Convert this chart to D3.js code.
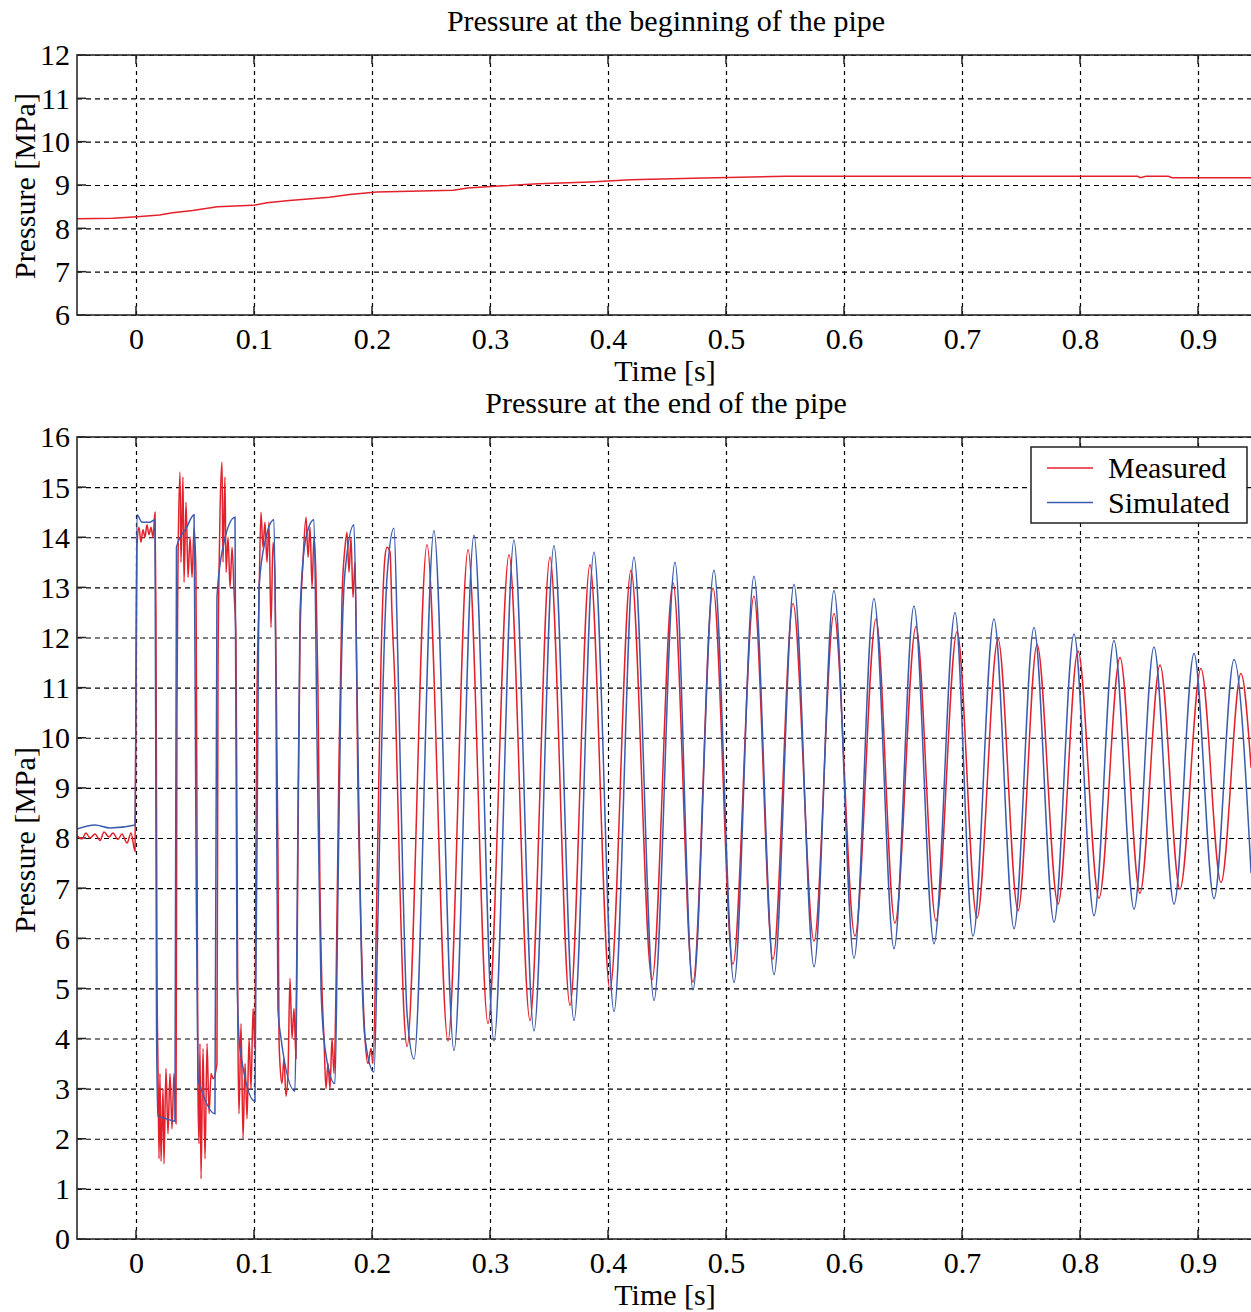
<!DOCTYPE html>
<html>
<head>
<meta charset="utf-8">
<script src="https://cdn.jsdelivr.net/npm/d3@7"></script>
<style>
	body { margin: 0; background: #fff; }
	text { font-family: "Liberation Serif", "Times New Roman", serif; font-size: 30px; fill: #000; }
</style>
</head>
<body>
<svg id="chart" width="1251" height="1312"></svg>
<script>
/*
	Pressure at the beginning and at the end of the pipe,
	measured vs simulated (two stacked panels).
*/

// Axis ticks
var xTicks = [0, 0.1, 0.2, 0.3, 0.4, 0.5, 0.6, 0.7, 0.8, 0.9];
var topYTicks = [6, 7, 8, 9, 10, 11, 12];
var botYTicks = [0, 1, 2, 3, 4, 5, 6, 7, 8, 9, 10, 11, 12, 13, 14, 15, 16];

// Series names
var seriesNames = ['Measured', 'Simulated'];

// Pressure at the beginning of the pipe [t (s), p (MPa)]
var inlet = [[-0.05, 8.22], [-0.0195, 8.23], [0.001, 8.27], [0.02, 8.31], [0.031, 8.36],
	[0.048, 8.41], [0.069, 8.5], [0.099, 8.53], [0.111, 8.59], [0.13, 8.64], [0.164, 8.72],
	[0.181, 8.78], [0.204, 8.84], [0.241, 8.86], [0.269, 8.88], [0.281, 8.93], [0.311, 8.98],
	[0.341, 9.03], [0.385, 9.07], [0.419, 9.12], [0.481, 9.16], [0.55, 9.2], [0.849, 9.2],
	[0.851, 9.17], [0.856, 9.2], [0.875, 9.2], [0.878, 9.17], [0.95, 9.17]];

// Pressure at the end of the pipe, measured [t (s), p (MPa)]
var measured = [
	[-0.05, 8.05], [-0.0458, 7.98], [-0.0424, 8.1], [-0.039, 8.0], [-0.0347, 8.08], [-0.0305, 7.95],
	[-0.0271, 8.12], [-0.0229, 8.02], [-0.0195, 8.1], [-0.0153, 7.97], [-0.0119, 8.08], [-0.0076, 7.9],
	[-0.0042, 8.1], [-0.0008, 7.73],
	[0.0008, 13.8], [0.0025, 14.2], [0.0042, 13.9], [0.0059, 14.15], [0.0076, 14.0], [0.0093, 14.25],
	[0.011, 14.05], [0.0127, 14.2], [0.0144, 14.0], [0.0161, 14.5], [0.0169, 12.5], [0.0178, 5.3],
	[0.0186, 3.5], [0.0195, 1.6], [0.0203, 3.3], [0.0212, 1.55], [0.0229, 3.0], [0.0237, 1.5],
	[0.0254, 3.4], [0.0271, 2.1], [0.0288, 3.3], [0.0305, 2.2], [0.0322, 3.3], [0.0339, 2.3],
	[0.0347, 10.5], [0.0356, 13.5], [0.0373, 15.3], [0.0381, 13.5], [0.0398, 15.2], [0.0407, 13.1],
	[0.0424, 14.7], [0.0441, 13.2], [0.0458, 14.0], [0.0475, 13.2], [0.0492, 14.2], [0.0508, 13.3],
	[0.0517, 8.0], [0.0525, 3.0], [0.0534, 1.9], [0.0542, 3.9], [0.0551, 1.2], [0.0568, 3.8],
	[0.0585, 1.6], [0.0602, 3.9], [0.0619, 2.5], [0.0636, 3.3], [0.0653, 3.2], [0.0686, 3.5],
	[0.0695, 11.4], [0.0703, 13.2], [0.0712, 14.5], [0.0729, 15.5], [0.0737, 13.5], [0.0754, 15.2],
	[0.0763, 13.3], [0.078, 14.0], [0.0797, 13.0], [0.0814, 13.8], [0.0831, 12.9], [0.0847, 12.0],
	[0.0856, 8.0], [0.0864, 4.0], [0.0873, 2.5], [0.089, 4.3], [0.0907, 2.0], [0.0924, 3.5],
	[0.0941, 2.4], [0.0958, 4.0], [0.0975, 3.0], [0.0992, 4.6], [0.1008, 3.8],
	[0.1017, 8.0], [0.1025, 10.8], [0.1042, 12.7], [0.1059, 14.5], [0.1076, 13.8], [0.1093, 14.3],
	[0.111, 13.5], [0.1127, 14.3], [0.1144, 12.2], [0.1161, 13.9], [0.1178, 13.2], [0.1195, 9.5],
	[0.1203, 7.7], [0.1212, 4.0], [0.122, 3.5], [0.1237, 3.1], [0.1254, 3.6], [0.1271, 2.85],
	[0.1288, 3.3], [0.1305, 5.2], [0.1322, 4.0], [0.1339, 4.6], [0.1356, 3.6],
	[0.1373, 8.0], [0.139, 12.0], [0.1415, 13.5], [0.1441, 14.4], [0.1458, 13.6], [0.1475, 14.2],
	[0.1492, 13.0], [0.1508, 14.0], [0.1525, 13.2], [0.1542, 11.0], [0.1559, 7.0], [0.1576, 5.0],
	[0.1593, 4.0], [0.161, 3.0], [0.1627, 3.5], [0.1644, 3.0], [0.1661, 4.0], [0.1678, 3.3],
	[0.1695, 5.0], [0.172, 9.5], [0.1746, 12.8], [0.1771, 13.8], [0.1788, 14.1], [0.1805, 13.3],
	[0.1822, 14.0], [0.1839, 12.8], [0.1856, 13.5], [0.1881, 9.0], [0.1915, 5.5], [0.1941, 4.0],
	[0.1966, 3.5], [0.1992, 3.8], [0.2008, 3.5],
	[0.2042, 7.0], [0.2076, 11.5], [0.211, 13.6], [0.2127, 13.8], [0.2153, 13.7], [0.2169, 12.5],
	[0.2195, 11.0], [0.2237, 7.0], [0.2271, 4.5], [0.2297, 3.84],
	[0.2466, 13.85], [0.2644, 3.95], [0.2814, 13.75], [0.2983, 4.3], [0.3161, 13.65], [0.3339, 4.36],
	[0.3508, 13.6], [0.3678, 4.66], [0.3847, 13.45], [0.4017, 4.97], [0.4195, 13.34], [0.4373, 5.17],
	[0.4551, 13.09], [0.472, 5.12], [0.489, 12.99], [0.5059, 5.48], [0.5237, 12.83], [0.5398, 5.58],
	[0.5568, 12.68], [0.5746, 5.94], [0.5915, 12.48], [0.6093, 6.04], [0.6271, 12.37], [0.6432, 6.3],
	[0.661, 12.22], [0.678, 6.35], [0.6958, 12.12], [0.7127, 6.4], [0.7305, 11.97], [0.7475, 6.55],
	[0.7636, 11.86], [0.7814, 6.68], [0.7983, 11.73], [0.8161, 6.8], [0.8339, 11.6], [0.8508, 6.9],
	[0.8678, 11.45], [0.8847, 6.98], [0.9025, 11.38], [0.9195, 7.11], [0.9364, 11.28], [0.945, 9.4]
];

// Pressure at the end of the pipe, simulated [t (s), p (MPa)]
var simulated = [
	[-0.05, 8.18], [-0.0347, 8.26], [-0.022, 8.2], [-0.0008, 8.26],
	[0.0008, 14.45], [0.0051, 14.3], [0.0119, 14.3], [0.0161, 14.35], [0.0174, 4.2], [0.0186, 2.45],
	[0.0254, 2.4], [0.033, 2.35],
	[0.0343, 13.8], [0.043, 14.2], [0.0492, 14.45], [0.0508, 8.0], [0.0525, 3.2], [0.0551, 3.0], [0.0669, 2.5],
	[0.0686, 12.8], [0.0737, 13.8], [0.0839, 14.4], [0.0856, 5.2], [0.0881, 3.8], [0.1008, 2.75],
	[0.1042, 13.0], [0.1102, 14.0], [0.1169, 14.35], [0.1186, 11.0], [0.1203, 4.6], [0.1229, 4.0], [0.1347, 2.95],
	[0.1364, 6.0], [0.139, 12.5], [0.1441, 14.0], [0.1508, 14.35], [0.1534, 10.0], [0.1568, 5.0],
	[0.1602, 3.8], [0.1686, 3.1],
	[0.1712, 7.0], [0.1737, 11.0], [0.1771, 13.3], [0.1847, 14.25], [0.1873, 11.0], [0.1907, 6.0],
	[0.1941, 4.0], [0.2017, 3.33],
	[0.2051, 6.5], [0.2093, 11.0], [0.2127, 13.2], [0.2186, 14.18], [0.222, 11.5], [0.2263, 7.0],
	[0.2297, 4.5], [0.2356, 3.59],
	[0.2525, 14.13], [0.2695, 3.76], [0.2864, 14.04], [0.3034, 3.95], [0.3203, 13.94], [0.3373, 4.15],
	[0.3542, 13.83], [0.3712, 4.36], [0.3881, 13.7], [0.4051, 4.54], [0.422, 13.6], [0.439, 4.76],
	[0.4568, 13.5], [0.472, 4.97], [0.4898, 13.34], [0.5068, 5.12], [0.5237, 13.22], [0.5407, 5.27],
	[0.5576, 13.06], [0.5746, 5.43], [0.5915, 12.94], [0.6085, 5.6], [0.6254, 12.78], [0.6424, 5.79],
	[0.6593, 12.63], [0.6763, 5.89], [0.6941, 12.5], [0.7093, 6.04], [0.7271, 12.37], [0.7441, 6.19],
	[0.761, 12.2], [0.778, 6.32], [0.7949, 12.07], [0.8119, 6.45], [0.8288, 11.94], [0.8458, 6.58],
	[0.8627, 11.81], [0.8797, 6.68], [0.8966, 11.68], [0.9136, 6.79], [0.9305, 11.56], [0.945, 7.3]
];

var RED = '#e3212b',
	BLUE = '#3b5cae';

var svg = d3.select('#chart');

var x = d3.scaleLinear().domain([-0.05, 0.95]).range([77, 1257]);

svg.append('defs').append('clipPath')
	.attr('id', 'plotclip')
	.append('rect')
	.attr('x', 77).attr('y', 0)
	.attr('width', 1180).attr('height', 1312);

function drawPanel(o) {
	var y = d3.scaleLinear().domain(o.yDomain).range([o.bottom, o.top]);
	var g = svg.append('g');
	var w = x.range()[1] - x.range()[0],
		h = o.bottom - o.top;

	// grid + tick labels (x)
	var xa = g.append('g')
		.attr('transform', 'translate(0,' + o.bottom + ')')
		.call(d3.axisBottom(x).tickValues(xTicks).tickSize(-h).tickFormat(d3.format('')));
	xa.select('.domain').remove();
	xa.selectAll('line')
		.attr('stroke', '#000').attr('stroke-width', 1.2).attr('stroke-dasharray', '4,4');
	xa.selectAll('text')
		.attr('y', 34).attr('dy', 0)
		.style('font-size', '30px').style('font-family', '"Liberation Serif", serif').attr('fill', '#000');

	// grid + tick labels (y)
	var ya = g.append('g')
		.attr('transform', 'translate(' + x.range()[0] + ',0)')
		.call(d3.axisLeft(y).tickValues(o.yTicks).tickSize(-w).tickPadding(7).tickFormat(d3.format('d')));
	ya.select('.domain').remove();
	ya.selectAll('line')
		.attr('stroke', '#000').attr('stroke-width', 1.2).attr('stroke-dasharray', '5,4');
	ya.selectAll('text')
		.attr('dy', '0.33em')
		.style('font-size', '30px').style('font-family', '"Liberation Serif", serif').attr('fill', '#000');

	// inward tick marks
	g.selectAll('line.xtick-b').data(xTicks).enter().append('line')
		.attr('x1', d => x(d)).attr('x2', d => x(d))
		.attr('y1', o.bottom).attr('y2', o.bottom - 9)
		.attr('stroke', '#222').attr('stroke-width', 1.5);
	g.selectAll('line.xtick-t').data(xTicks).enter().append('line')
		.attr('x1', d => x(d)).attr('x2', d => x(d))
		.attr('y1', o.top).attr('y2', o.top + 9)
		.attr('stroke', '#222').attr('stroke-width', 1.5);
	g.selectAll('line.ytick').data(o.yTicks).enter().append('line')
		.attr('x1', x.range()[0]).attr('x2', x.range()[0] + 9)
		.attr('y1', d => y(d)).attr('y2', d => y(d))
		.attr('stroke', '#222').attr('stroke-width', 1.5);

	// series
	var line = d3.line().curve(o.curve || d3.curveLinear).x(d => x(d[0])).y(d => y(d[1]));
	o.series.forEach(function(s) {
		g.append('path')
			.datum(s.data)
			.attr('clip-path', 'url(#plotclip)')
			.attr('fill', 'none')
			.attr('stroke', s.color)
			.attr('stroke-width', 1.5)
			.attr('d', line);
	});

	// frame
	g.append('rect')
		.attr('x', x.range()[0]).attr('y', o.top)
		.attr('width', w).attr('height', h)
		.attr('fill', 'none').attr('stroke', '#2a2a2a').attr('stroke-width', 1.6);

	// titles
	g.append('text')
		.attr('x', 666).attr('y', o.top - 24)
		.attr('text-anchor', 'middle')
		.text(o.title);
	g.append('text')
		.attr('x', 665).attr('y', o.bottom + 66)
		.attr('text-anchor', 'middle')
		.text('Time [s]');
	g.append('text')
		.attr('transform', 'translate(35,' + o.labelY + ') rotate(-90)')
		.attr('text-anchor', 'middle')
		.text('Pressure [MPa]');

	return {g: g, y: y};
}

drawPanel({
	top: 55, bottom: 315,
	yDomain: [6, 12], yTicks: topYTicks,
	title: 'Pressure at the beginning of the pipe',
	labelY: 186,
	series: [{data: inlet, color: RED}]
});

drawPanel({
	top: 437, bottom: 1239,
	yDomain: [0, 16], yTicks: botYTicks,
	title: 'Pressure at the end of the pipe',
	labelY: 840,
	curve: d3.curveMonotoneX,
	series: [{data: measured, color: RED}, {data: simulated, color: BLUE}]
});

// Legend
var legend = svg.append('g').attr('transform', 'translate(1031,447)');
legend.append('rect')
	.attr('width', 216).attr('height', 76)
	.attr('fill', '#fff').attr('stroke', '#222').attr('stroke-width', 1.5);
var items = legend.selectAll('g.item')
	.data(seriesNames)
	.enter().append('g')
	.attr('transform', (d, i) => 'translate(0,' + (21 + i * 34.5) + ')');
items.append('line')
	.attr('x1', 16).attr('x2', 62)
	.attr('stroke', (d, i) => i ? BLUE : RED)
	.attr('stroke-width', 1.5);
items.append('text')
	.attr('x', 77).attr('y', 10)
	.text(d => d);
</script>
</body>
</html>
